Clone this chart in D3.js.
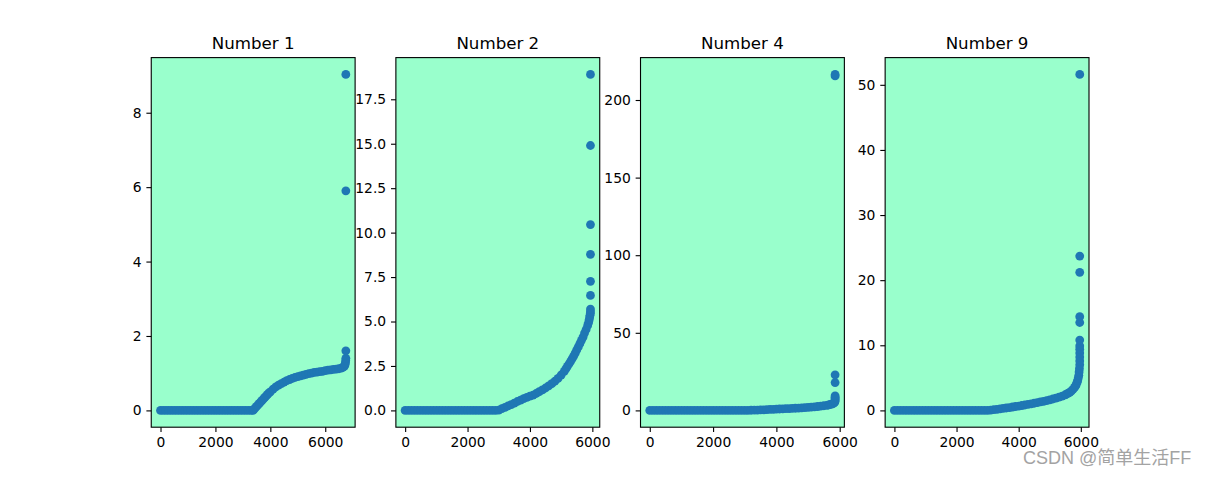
<!DOCTYPE html>
<html>
<head>
<meta charset="utf-8">
<script src="https://cdn.jsdelivr.net/npm/d3@7"></script>
<style>
  html, body { margin: 0; padding: 0; background: #ffffff; }
  svg { display: block; }
  text { font-family: "DejaVu Sans", sans-serif; }
</style>
</head>
<body>
<svg id="chart" width="1210" height="480"></svg>
<script>
// ---------- data (index, value) ----------
const titles = ["Number 1", "Number 2", "Number 4", "Number 9"];

const series1 = [
  [0,0],[100,0],[200,0],[300,0],[400,0],[500,0],[600,0],[700,0],[800,0],[900,0],
  [1000,0],[1100,0],[1200,0],[1300,0],[1400,0],[1500,0],[1600,0],[1700,0],[1800,0],[1900,0],
  [2000,0],[2100,0],[2200,0],[2300,0],[2400,0],[2500,0],[2600,0],[2700,0],[2800,0],[2900,0],
  [3000,0],[3100,0],[3200,0],[3300,0],[3370,0.0],[3400,0.03],[3450,0.07],[3500,0.11],[3550,0.15],
  [3600,0.19],[3650,0.23],[3700,0.27],[3750,0.31],[3800,0.35],[3850,0.39],[3900,0.43],[3950,0.47],
  [4000,0.50],[4100,0.57],[4200,0.63],[4300,0.68],[4400,0.72],[4500,0.76],[4600,0.80],
  [4700,0.83],[4800,0.86],[4900,0.89],[5000,0.91],[5100,0.93],[5200,0.95],[5300,0.97],
  [5400,0.99],[5500,1.00],[5600,1.02],[5700,1.03],[5800,1.04],[5900,1.05],[6000,1.07],
  [6100,1.08],[6200,1.09],[6300,1.10],[6400,1.11],[6500,1.12],[6600,1.14],[6650,1.16],
  [6700,1.19],[6720,1.23],[6735,1.28],[6745,1.34],[6750,1.40],[6750,1.60],[6750,5.90],[6750,9.03]
];

const series2 = [
  [0,0],[100,0],[200,0],[300,0],[400,0],[500,0],[600,0],[700,0],[800,0],[900,0],
  [1000,0],[1100,0],[1200,0],[1300,0],[1400,0],[1500,0],[1600,0],[1700,0],[1800,0],[1900,0],
  [2000,0],[2100,0],[2200,0],[2300,0],[2400,0],[2500,0],[2600,0],[2700,0],[2800,0],[2900,0],
  [3000,0.02],[3100,0.10],[3200,0.17],[3300,0.25],[3400,0.33],[3500,0.41],[3600,0.50],
  [3700,0.58],[3800,0.66],[3900,0.73],[4000,0.80],[4100,0.86],[4200,0.95],[4300,1.05],
  [4400,1.15],[4500,1.26],[4600,1.38],[4700,1.50],[4800,1.64],[4900,1.80],[5000,1.99],
  [5100,2.20],[5150,2.33],[5200,2.48],[5250,2.61],[5300,2.75],[5350,2.90],[5400,3.05],
  [5450,3.22],[5500,3.40],[5550,3.57],[5600,3.75],[5650,3.94],[5700,4.12],[5750,4.35],
  [5800,4.55],[5850,4.78],[5880,4.95],[5900,5.10],[5915,5.25],[5925,5.35],[5935,5.45],
  [5940,5.55],[5940,5.70],[5940,6.47],[5940,7.26],[5940,8.78],[5940,10.45],[5940,14.9],[5940,18.9]
];

const series3 = [
  [0,0],[100,0],[200,0],[300,0],[400,0],[500,0],[600,0],[700,0],[800,0],[900,0],
  [1000,0],[1100,0],[1200,0],[1300,0],[1400,0],[1500,0],[1600,0],[1700,0],[1800,0],[1900,0],
  [2000,0],[2100,0],[2200,0],[2300,0],[2400,0],[2500,0],[2600,0],[2700,0],[2800,0],[2900,0],
  [3000,0],[3100,0.05],[3200,0.1],[3300,0.15],[3400,0.2],[3500,0.3],[3600,0.4],[3700,0.5],
  [3800,0.6],[3900,0.7],[4000,0.8],[4100,0.9],[4200,1.0],[4300,1.1],[4400,1.2],[4500,1.3],
  [4600,1.4],[4700,1.5],[4800,1.6],[4900,1.8],[5000,2.0],[5100,2.15],[5200,2.3],[5300,2.5],
  [5400,2.7],[5500,3.0],[5600,3.3],[5650,3.5],[5700,3.8],[5750,4.1],[5800,4.5],[5830,5.0],
  [5845,5.5],[5855,6.0],[5855,6.8],[5855,7.6],[5855,8.4],[5855,9.3],[5855,17.9],[5855,22.9],
  [5855,215.5],[5855,216.5]
];

const series4 = [
  [0,0],[100,0],[200,0],[300,0],[400,0],[500,0],[600,0],[700,0],[800,0],[900,0],
  [1000,0],[1100,0],[1200,0],[1300,0],[1400,0],[1500,0],[1600,0],[1700,0],[1800,0],[1900,0],
  [2000,0],[2100,0],[2200,0],[2300,0],[2400,0],[2500,0],[2600,0],[2700,0],[2800,0],[2900,0],
  [3000,0],[3100,0.05],[3200,0.11],[3300,0.17],[3400,0.23],[3500,0.30],[3600,0.37],[3700,0.44],
  [3800,0.52],[3900,0.60],[4000,0.67],[4100,0.75],[4200,0.83],[4300,0.92],[4400,1.00],
  [4500,1.10],[4600,1.20],[4700,1.30],[4800,1.40],[4900,1.50],[5000,1.62],[5100,1.75],
  [5200,1.88],[5300,2.03],[5400,2.20],[5500,2.40],[5550,2.52],[5600,2.65],[5650,2.80],
  [5700,3.00],[5750,3.25],[5800,3.55],[5830,3.75],[5850,3.95],[5880,4.30],[5900,4.60],
  [5920,5.00],[5935,5.40],[5945,5.90],[5955,6.40],[5965,7.00],[5965,7.60],[5965,8.20],
  [5965,8.80],[5965,9.40],[5965,9.90],[5965,10.8],[5965,13.5],[5965,14.4],[5965,21.2],
  [5965,23.7],[5965,51.6]
];

const seriesList = [series1, series2, series3, series4];

const xTicks = [0, 2000, 4000, 6000];
const yTicks1 = [0, 2, 4, 6, 8];
const yTicks2 = [0, 2.5, 5, 7.5, 10, 12.5, 15, 17.5];
const yTicks3 = [0, 50, 100, 150, 200];
const yTicks4 = [0, 10, 20, 30, 40, 50];
const yTickLists = [yTicks1, yTicks2, yTicks3, yTicks4];
const yTickFormats = [d3.format("d"), d3.format(".1f"), d3.format("d"), d3.format("d")];

const watermark = "CSDN @简单生活FF";

// ---------- layout (matplotlib default subplot params) ----------
const W = 1210, H = 480;
const mLeft = 0.125 * W, mRight = 0.9 * W;
const mTop = (1 - 0.88) * H, mBottom = (1 - 0.11) * H;
const nPanels = 4, wspace = 0.2;
const pw = (mRight - mLeft) / (nPanels + (nPanels - 1) * wspace);
const gap = pw * wspace;
const ph = mBottom - mTop;

const pt = 100 / 72;
const tickLen = 3.5 * pt, tickPad = 3.5 * pt, lw = 0.8 * pt;
const faceColor = "#99ffcc";
const dotColor = "#1f77b4";
const dotR = 4.4;

const svg = d3.select("#chart");

function padded(ext) {
  const r = ext[1] - ext[0];
  return [ext[0] - 0.05 * r, ext[1] + 0.05 * r];
}

seriesList.forEach((data, i) => {
  const x0 = mLeft + i * (pw + gap);
  const g = svg.append("g").attr("transform", `translate(${x0},${mTop})`);

  const x = d3.scaleLinear().domain(padded(d3.extent(data, d => d[0]))).range([0, pw]);
  const y = d3.scaleLinear().domain(padded(d3.extent(data, d => d[1]))).range([ph, 0]);

  g.append("rect").attr("width", pw).attr("height", ph).attr("fill", faceColor);

  g.append("g").selectAll("circle").data(data).join("circle")
    .attr("cx", d => x(d[0])).attr("cy", d => y(d[1]))
    .attr("r", dotR).attr("fill", dotColor);

  g.append("rect").attr("width", pw).attr("height", ph)
    .attr("fill", "none").attr("stroke", "#000").attr("stroke-width", lw);

  const xa = g.append("g").attr("transform", `translate(0,${ph})`)
    .call(d3.axisBottom(x).tickValues(xTicks).tickFormat(d3.format("d"))
      .tickSize(tickLen).tickPadding(tickPad));
  const ya = g.append("g")
    .call(d3.axisLeft(y).tickValues(yTickLists[i]).tickFormat(yTickFormats[i])
      .tickSize(tickLen).tickPadding(tickPad));

  [xa, ya].forEach(a => {
    a.select(".domain").remove();
    a.selectAll("line").attr("stroke", "#000").attr("stroke-width", lw);
    a.selectAll("text").attr("fill", "#000")
      .style("font-family", "DejaVu Sans").style("font-size", (10 * pt) + "px");
  });

  g.append("text")
    .attr("x", pw / 2).attr("y", -6 * pt)
    .attr("text-anchor", "middle")
    .style("font-family", "DejaVu Sans").style("font-size", (12 * pt) + "px")
    .attr("fill", "#000")
    .text(titles[i]);
});

svg.append("text")
  .attr("x", 1023).attr("y", 464)
  .style("font-family", "'Liberation Sans', 'Noto Sans CJK SC', sans-serif")
  .style("font-size", "18px")
  .attr("fill", "#a3a3a3")
  .text(watermark);
</script>
</body>
</html>
